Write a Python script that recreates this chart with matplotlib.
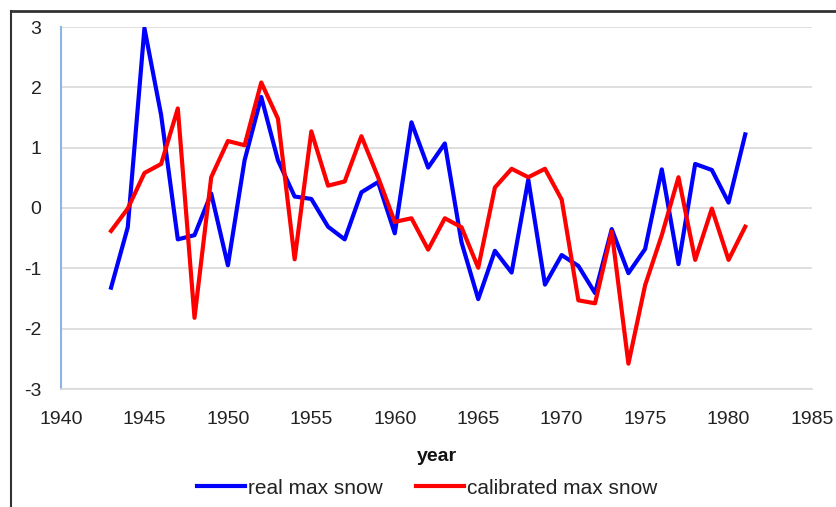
import matplotlib.pyplot as plt
from matplotlib.lines import Line2D

plt.rcParams['font.family'] = ['Liberation Sans', 'DejaVu Sans']
plt.rcParams['axes.unicode_minus'] = False

# années et séries
years = list(range(1943, 1982))
real_max_snow = [-1.32, -0.32, 2.98, 1.54, -0.52, -0.45, 0.24, -0.95, 0.79, 1.84,
                 0.79, 0.19, 0.15, -0.31, -0.52, 0.26, 0.43, -0.42, 1.42, 0.67,
                 1.07, -0.57, -1.51, -0.71, -1.07, 0.47, -1.27, -0.78, -0.96, -1.41,
                 -0.35, -1.08, -0.68, 0.64, -0.93, 0.73, 0.63, 0.09, 1.22]
calibrated_max_snow = [-0.38, -0.01, 0.58, 0.73, 1.65, -1.82, 0.51, 1.11, 1.04, 2.08,
                       1.48, -0.85, 1.27, 0.37, 0.44, 1.19, 0.51, -0.23, -0.17, -0.69,
                       -0.17, -0.32, -0.99, 0.34, 0.65, 0.51, 0.65, 0.14, -1.53, -1.58,
                       -0.39, -2.58, -1.28, -0.45, 0.51, -0.86, -0.01, -0.86, -0.31]

x_ticks = list(range(1940, 1986, 5))
y_ticks = [-3, -2, -1, 0, 1, 2, 3]

fig = plt.figure(figsize=(8.37, 5.07), dpi=100)
ax = fig.add_axes([61 / 837, 1 - 389 / 507, (812 - 61) / 837, (389 - 27) / 507])

ax.plot(years, real_max_snow, color='#0000FF', lw=3, label='real max snow')
ax.plot(years, calibrated_max_snow, color='#FF0000', lw=3, label='calibrated max snow')

ax.set_xlim(1940, 1985)
ax.set_ylim(-3, 3)
ax.set_xticks(x_ticks)
ax.set_yticks(y_ticks)
ax.grid(axis='y', color='#D9D9D9', lw=1.2)
ax.set_axisbelow(True)
ax.tick_params(length=0, labelsize=14, colors='#222222')
ax.tick_params(axis='y', pad=14)
ax.tick_params(axis='x', pad=16)

for side in ['top', 'right']:
    ax.spines[side].set_visible(False)
ax.spines['left'].set_color('#8EB4E3')
ax.spines['left'].set_linewidth(1.5)
ax.spines['bottom'].set_color('#D9D9D9')
ax.spines['bottom'].set_linewidth(1.2)

ax.set_xlabel('year', fontsize=14, fontweight='bold', labelpad=14, color='#111111')

leg = fig.legend(loc='center', bbox_to_anchor=(427 / 837, 1 - 488 / 507), ncol=2,
                 frameon=False, fontsize=15, handlelength=2.3, handletextpad=0.15,
                 columnspacing=1.6)
for t in leg.get_texts():
    t.set_color('#222222')

# cadre de la figure (coupé à droite et en bas)
fig.add_artist(Line2D([11 / 837, 11 / 837], [0, 1 - 11 / 507], color='#333333', lw=1.5,
                      transform=fig.transFigure))
fig.add_artist(Line2D([11 / 837, 1], [1 - 11 / 507, 1 - 11 / 507], color='#333333', lw=2,
                      transform=fig.transFigure))

fig.savefig('out.png', dpi=100)
